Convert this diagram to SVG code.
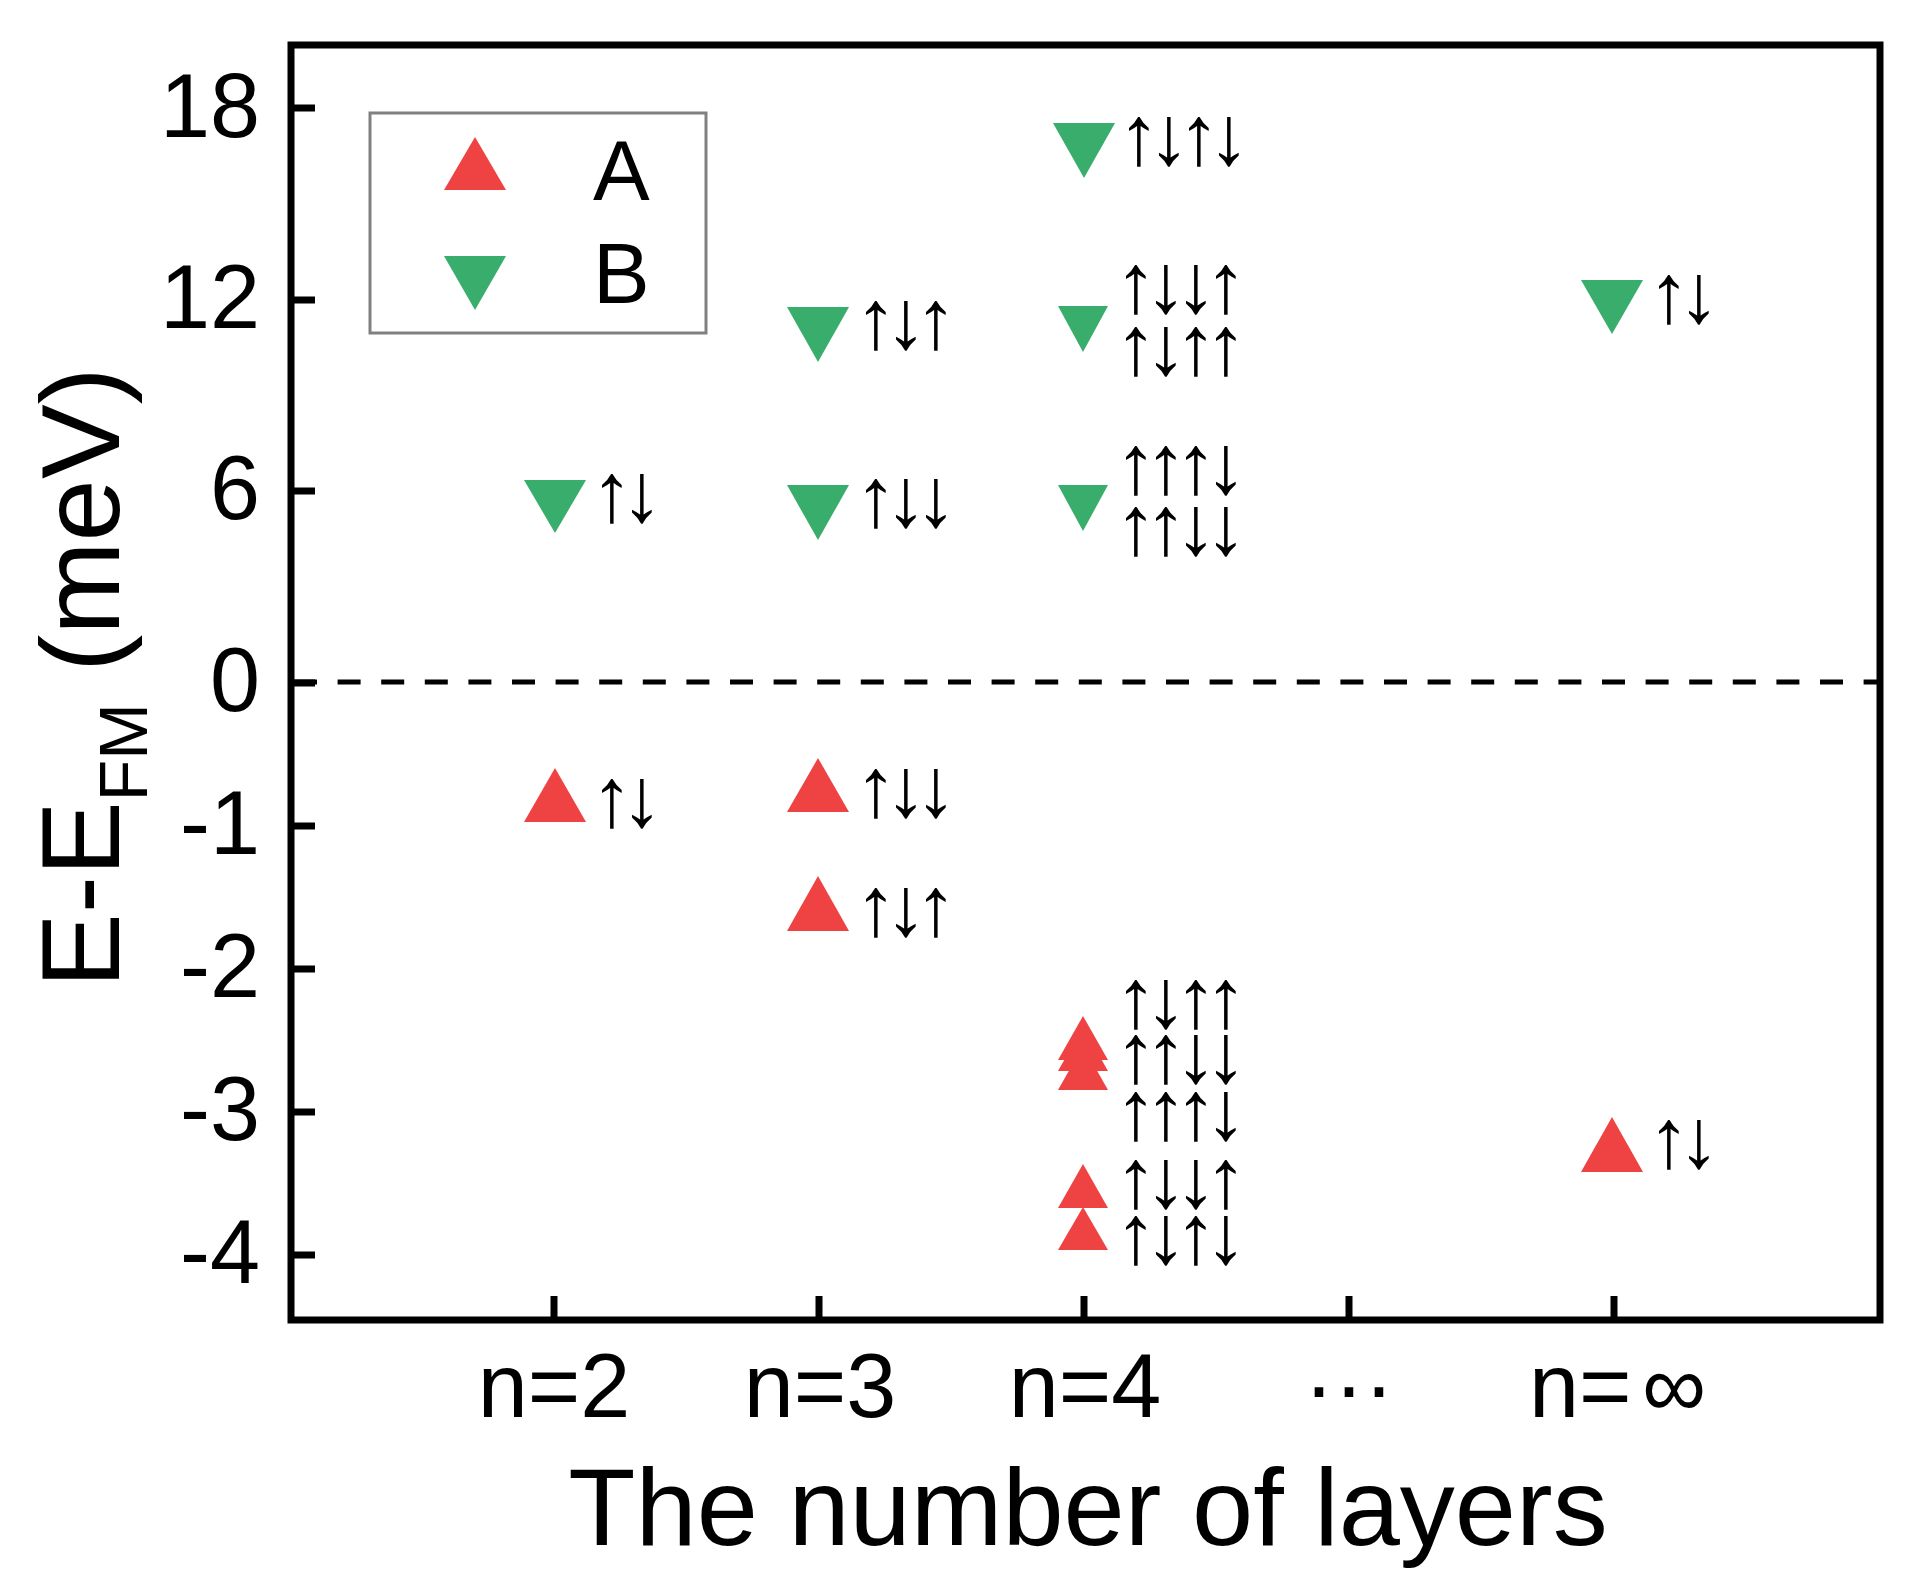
<svg xmlns="http://www.w3.org/2000/svg" width="1915" height="1582" viewBox="0 0 1915 1582">
<style>
text{font-family:"Liberation Sans",Arial,sans-serif;fill:#000}
.tick{font-size:90px}
.arr{font-size:84px;font-weight:bold;text-anchor:middle}
.ra{fill:#ef4343}
.gb{fill:#38ad6c}
.ax{stroke:#000;stroke-width:7;fill:none}
</style>
<rect width="1915" height="1582" fill="#fff"/>
<g id="axes">
<path class="ax" d="M291,45 H1880 V1320 H291 Z"/>
<path class="ax" d="M291,108 H315 M291,300 H315 M291,491 H315 M291,683 H315 M291,826 H315 M291,969 H315 M291,1112 H315 M291,1255 H315"/>
<path class="ax" d="M554,1296 V1320 M819,1296 V1320 M1084,1296 V1320 M1349,1296 V1320 M1614,1296 V1320"/>
<line x1="294" y1="682" x2="1877" y2="682" stroke="#000" stroke-width="5" stroke-dasharray="23,20.6"/>
<g class="tick" text-anchor="end">
<text x="260" y="137">18</text><text x="260" y="328">12</text><text x="260" y="519">6</text><text x="260" y="711">0</text>
<text x="260" y="854">-1</text><text x="260" y="997">-2</text><text x="260" y="1140">-3</text><text x="260" y="1283">-4</text>
</g>
<g class="tick" text-anchor="middle">
<text x="554" y="1417">n=2</text><text x="820" y="1417">n=3</text><text x="1085" y="1417">n=4</text><text x="1349" y="1417">···</text>
</g>
<text class="tick" x="1529" y="1417">n=<tspan x="1642">∞</tspan></text>
<text x="1088" y="1545" font-size="110" text-anchor="middle">The number of layers</text>
<text transform="translate(119,988) rotate(-90)" font-size="112">E-E<tspan font-size="68" dy="28">FM</tspan><tspan dy="-28"> (meV)</tspan></text>
</g>
<g id="legend">
<rect x="370" y="113" width="336" height="220" fill="none" stroke="#808080" stroke-width="3"/>
<polygon class="ra" points="475,137 506,190 444,190"/>
<polygon class="gb" points="444,256 506,256 475,310"/>
<text x="593" y="200" font-size="85">A</text>
<text x="593" y="303" font-size="85">B</text>
</g>
<g id="series-B">
<polygon class="gb" points="524,480 586,480 555,533"/>
<polygon class="gb" points="787,307 849,307 818,362"/>
<polygon class="gb" points="787,485 849,485 818,540"/>
<polygon class="gb" points="1053,123 1115,123 1084,178"/>
<polygon class="gb" points="1058,306 1108,306 1083,352"/>
<polygon class="gb" points="1058,485 1108,485 1083,531"/>
<polygon class="gb" points="1581,280 1643,280 1612,334"/>
</g>
<g id="series-A">
<polygon class="ra" points="555,768 586,822 524,822"/>
<polygon class="ra" points="818,758 849,812 787,812"/>
<polygon class="ra" points="818,876 849,931 787,931"/>
<polygon class="ra" points="1612,1117 1643,1172 1581,1172"/>
<polygon class="ra" points="1083,1016 1108,1060 1058,1060"/>
<polygon class="ra" points="1083,1027 1108,1071 1058,1071"/>
<polygon class="ra" points="1083,1046 1108,1090 1058,1090"/>
<polygon class="ra" points="1083,1164 1108,1208 1058,1208"/>
<polygon class="ra" points="1083,1207 1108,1250 1058,1250"/>
</g>
<g id="spin-labels" class="arr">
<text class="arr" x="612 642" y="521">↑↓</text>
<text class="arr" x="612 642" y="826">↑↓</text>
<text class="arr" x="876 906 936" y="348">↑↓↑</text>
<text class="arr" x="876 906 936" y="526">↑↓↓</text>
<text class="arr" x="876 906 936" y="816">↑↓↓</text>
<text class="arr" x="876 906 936" y="935">↑↓↑</text>
<text class="arr" x="1139 1169 1199 1229" y="164">↑↓↑↓</text>
<text class="arr" x="1136 1166 1196 1226" y="312">↑↓↓↑</text>
<text class="arr" x="1136 1166 1196 1226" y="374">↑↓↑↑</text>
<text class="arr" x="1136 1166 1196 1226" y="493">↑↑↑↓</text>
<text class="arr" x="1136 1166 1196 1226" y="554">↑↑↓↓</text>
<text class="arr" x="1136 1166 1196 1226" y="1027">↑↓↑↑</text>
<text class="arr" x="1136 1166 1196 1226" y="1082">↑↑↓↓</text>
<text class="arr" x="1136 1166 1196 1226" y="1139">↑↑↑↓</text>
<text class="arr" x="1136 1166 1196 1226" y="1207">↑↓↓↑</text>
<text class="arr" x="1136 1166 1196 1226" y="1263">↑↓↑↓</text>
<text class="arr" x="1669 1699" y="322">↑↓</text>
<text class="arr" x="1669 1699" y="1167">↑↓</text>
</g>
</svg>
